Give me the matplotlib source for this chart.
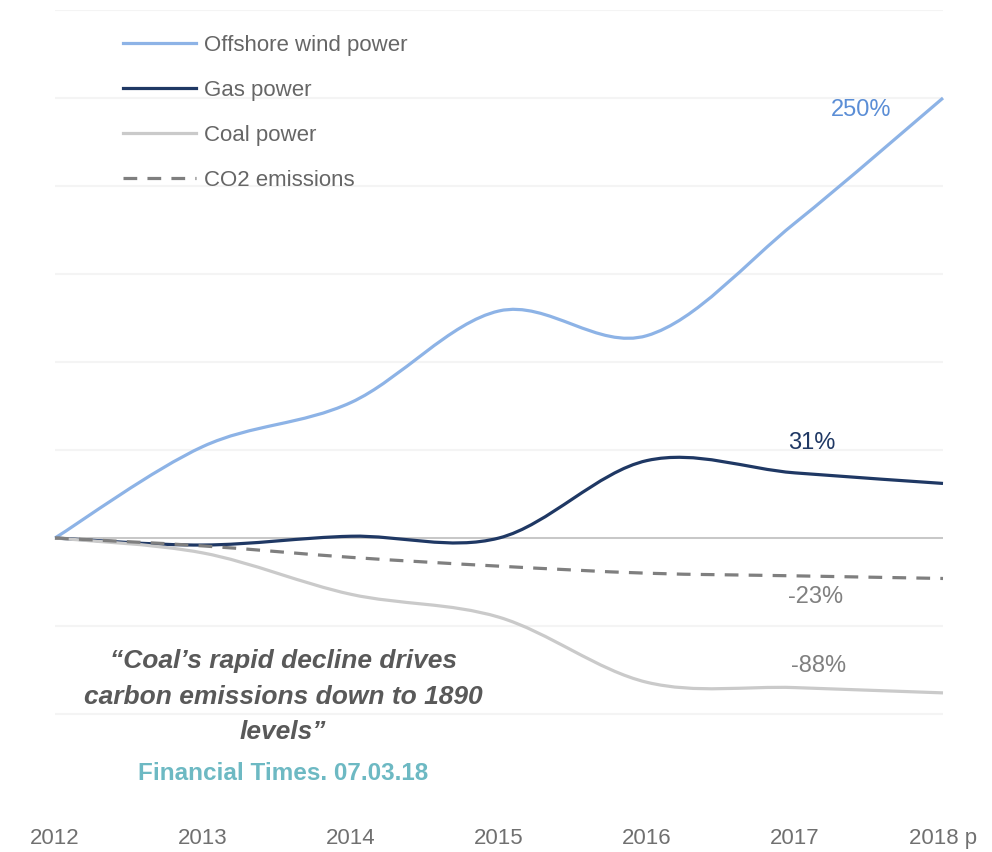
import matplotlib
matplotlib.use("Agg")
import matplotlib.pyplot as plt
from matplotlib.path import Path
from matplotlib.patches import PathPatch
from matplotlib.lines import Line2D

plt.rcParams['font.family'] = ['Liberation Sans', 'DejaVu Sans']

# % change since 2012
years = [2012, 2013, 2014, 2015, 2016, 2017, 2018]
year_labels = ["2012", "2013", "2014", "2015", "2016", "2017", "2018 p"]
wind = [0, 52, 77, 129, 115, 179, 250]
gas = [0, -4, 1, 0, 44, 37, 31]
coal = [0, -8.5, -32, -45, -82, -85, -88]
co2 = [0, -4.5, -11, -16, -20, -21.5, -23]


def smooth_path(xs, ys):
    # catmull-rom style bezier, like a spreadsheet "smoothed line"
    pts = list(zip(xs, ys))
    verts = [pts[0]]
    codes = [Path.MOVETO]
    n = len(pts)
    for i in range(n - 1):
        p0 = pts[i - 1] if i > 0 else pts[i]
        p1 = pts[i]
        p2 = pts[i + 1]
        p3 = pts[i + 2] if i + 2 < n else pts[i + 1]
        c1 = (p1[0] + (p2[0] - p0[0]) / 6, p1[1] + (p2[1] - p0[1]) / 6)
        c2 = (p2[0] - (p3[0] - p1[0]) / 6, p2[1] - (p3[1] - p1[1]) / 6)
        verts += [c1, c2, p2]
        codes += [Path.CURVE4] * 3
    return Path(verts, codes)


fig = plt.figure(figsize=(9.92, 8.52), dpi=100)
ax = fig.add_axes([55 / 992, 1 - 802 / 852, 888 / 992, 792 / 852])
ax.set_xlim(2012, 2018)
ax.set_ylim(-150, 300)

ax.set_yticks(range(-100, 301, 50))
ax.yaxis.grid(True, color='#f4f4f4', lw=1.5)
ax.set_axisbelow(True)
ax.tick_params(axis='y', left=False, labelleft=False)
ax.set_xticks(years)
ax.set_xticklabels(year_labels)
ax.tick_params(axis='x', bottom=False, pad=15, labelsize=16, labelcolor='#707070')
for s in ax.spines.values():
    s.set_visible(False)

ax.axhline(0, color='#c4c4c4', lw=1.3, zorder=1)

series = [
    ("Offshore wind power", wind, '#8db3e6', '-'),
    ("Gas power", gas, '#1f3864', '-'),
    ("Coal power", coal, '#cacaca', '-'),
    ("CO2 emissions", co2, '#7f7f7f', (0, (4.3, 3.2))),
]
handles = []
for name, vals, col, ls in series:
    lw = 2.3
    patch = PathPatch(smooth_path(years, vals), facecolor='none', edgecolor=col,
                      lw=lw, linestyle=ls, capstyle='butt', clip_on=False, zorder=3)
    ax.add_patch(patch)
    handles.append(Line2D([], [], color=col, lw=lw, linestyle=ls, label=name))

# end labels
ax.text(2017.45, 243, f"{wind[-1]:.0f}%", color='#5b8ed6', fontsize=17, ha='center', va='center')
ax.text(2017.11, 54, f"{gas[-1]:.0f}%", color='#1f3864', fontsize=17, ha='center', va='center')
ax.text(2017.14, -33.5, f"{co2[-1]:.0f}%", color='#808080', fontsize=17, ha='center', va='center')
ax.text(2017.16, -72.7, f"{coal[-1]:.0f}%", color='#808080', fontsize=17, ha='center', va='center')

leg = fig.legend(handles=handles, loc='upper left', bbox_to_anchor=(123 / 992, 1 - 35 / 852),
                 frameon=False, fontsize=16, handlelength=3.3, handletextpad=0.35,
                 labelspacing=1.08, borderpad=0, borderaxespad=0)
for t in leg.get_texts():
    t.set_color('#666666')

fig.text(283 / 992, 1 - 696.5 / 852,
         "\u201cCoal\u2019s rapid decline drives\ncarbon emissions down to 1890\nlevels\u201d",
         ha='center', va='center', fontsize=19, fontweight='bold', fontstyle='italic',
         color='#595959', linespacing=1.6)
fig.text(283 / 992, 1 - 773 / 852, "Financial Times. 07.03.18", ha='center', va='center',
         fontsize=17.5, fontweight='bold', color='#6db9c3')

fig.savefig("out.png", dpi=100)
